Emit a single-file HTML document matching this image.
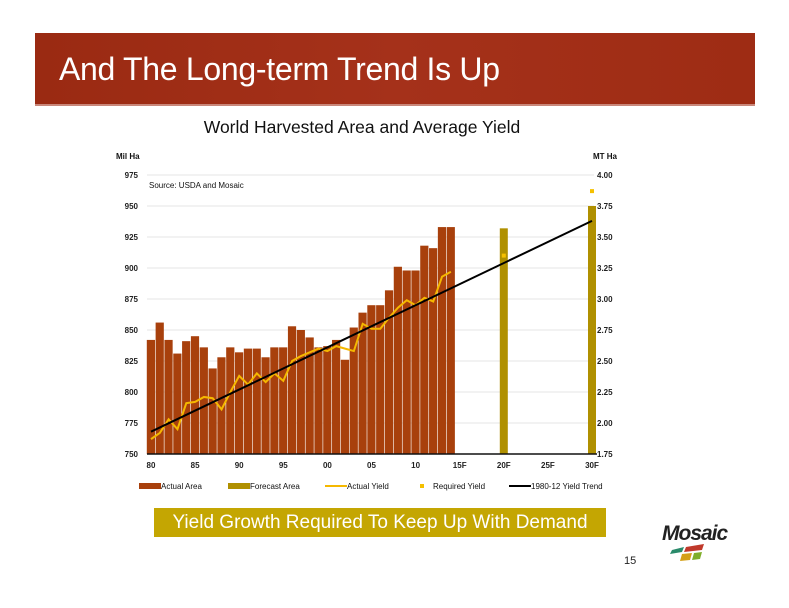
<!DOCTYPE html>
<html><head><meta charset="utf-8"><style>
body{margin:0;width:789px;height:608px;background:#fff;overflow:hidden;font-family:"Liberation Sans",sans-serif;position:relative}
#hdr{position:absolute;left:35px;top:33px;width:720px;height:71px;background:linear-gradient(90deg,#9a2a12,#a5311a 50%,#9e2c14);border-bottom:2px solid #c9877a}
#hdr span{position:absolute;left:24px;top:18px;color:#fff;font-size:32px;letter-spacing:-0.3px}
#banner{position:absolute;left:154px;top:508px;width:452px;height:29px;background:#c4a602;color:#fff;font-size:19px;line-height:29px;text-align:center}
#logo{position:absolute;left:662px;top:522px;font:italic bold 21px "Liberation Sans",sans-serif;color:#222;letter-spacing:-1px}
#pg{position:absolute;left:624px;top:555px;font-size:11px;color:#222}
</style></head><body>
<div id="hdr"><span>And The Long-term Trend Is Up</span></div>
<svg id="chart" width="789" height="608" style="position:absolute;left:0;top:0"></svg>
<div id="banner">Yield Growth Required To Keep Up With Demand</div>
<div id="logo">Mosaic<svg width="40" height="18" style="position:absolute;left:8px;top:22px"><polygon points="2,6 14,3 12,8 0,10" fill="#2a8a6a"/><polygon points="16,3 34,0 32,6 14,8" fill="#c0392b"/><polygon points="12,10 22,9 20,16 10,17" fill="#d4a017"/><polygon points="24,9 32,8 30,15 22,16" fill="#7fae2a"/></svg></div>
<div id="pg">15</div>
<script>
const years=[1980,1981,1982,1983,1984,1985,1986,1987,1988,1989,1990,1991,1992,1993,1994,1995,1996,1997,1998,1999,2000,2001,2002,2003,2004,2005,2006,2007,2008,2009,2010,2011,2012,2013,2014];
const area=[842,856,842,831,841,845,836,819,828,836,832,835,835,828,836,836,853,850,844,836,837,842,826,852,864,870,870,882,901,898,898,918,916,933,933];
const yieldVals=[1.87,1.92,2.03,1.95,2.16,2.17,2.21,2.20,2.11,2.25,2.38,2.31,2.40,2.33,2.40,2.34,2.50,2.54,2.57,2.60,2.58,2.62,2.60,2.58,2.80,2.76,2.76,2.85,2.93,2.99,2.95,3.01,2.98,3.18,3.22];
const forecastYears=[2020,2030];
const forecastArea=[932,950];
const requiredYield=[3.35,3.87];
const trendYears=[1980,2030];
const trendVals=[1.93,3.63];
const leftTicks=[750,775,800,825,850,875,900,925,950,975];
const rightTicks=["1.75","2.00","2.25","2.50","2.75","3.00","3.25","3.50","3.75","4.00"];
const xTicks=["80","85","90","95","00","05","10","15F","20F","25F","30F"];

const svg=document.getElementById('chart');const NS='http://www.w3.org/2000/svg';
const X=y=>151+(y-1980)*8.82;
const YL=v=>454-(v-750)*(279/225);
const YR=v=>454-(v-1.75)*(279/2.25);
function mk(t,a,txt){const e=document.createElementNS(NS,t);for(const k in a)e.setAttribute(k,a[k]);if(txt!=null)e.textContent=txt;svg.appendChild(e);return e;}
let e;
e=mk('text',{x:362,y:133,'text-anchor':'middle','font-size':17.5,'font-family':'Liberation Sans, sans-serif',fill:'#111'},'World Harvested Area and Average Yield');


e=mk('text',{x:116,y:159,'font-size':8,'font-weight':'bold',fill:'#111'},'Mil Ha');


e=mk('text',{x:593,y:159,'font-size':8,'font-weight':'bold',fill:'#111'},'MT Ha');


leftTicks.forEach((v,i)=>{
  const y=YL(v);
  if(i>0){e=mk('line',{x1:147,x2:594,y1:y,y2:y,stroke:'#e4e4e4','stroke-width':1});
  
  }
  e=mk('text',{x:138,y:y+3,'text-anchor':'end','font-size':8,'font-weight':'bold',fill:'#222'},String(v));
  
  
  e=mk('text',{x:597,y:y+3,'font-size':8,'font-weight':'bold',fill:'#222'},rightTicks[i]);
  
  
});
e=mk('text',{x:149,y:188,'font-size':8,fill:'#111'},'Source:  USDA and Mosaic');


years.forEach((yr,i)=>{
  e=mk('rect',{x:X(yr)-4.2,y:YL(area[i]),width:8.2,height:454-YL(area[i]),fill:'#a8400c'});
  
  
});
forecastYears.forEach((yr,i)=>{
  e=mk('rect',{x:X(yr)-4,y:YL(forecastArea[i]),width:8,height:454-YL(forecastArea[i]),fill:'#b09000'});
  
  
});
e=mk('line',{x1:147,x2:597,y1:454,y2:454,stroke:'#111','stroke-width':1.5});


xTicks.forEach((t,i)=>{
  e=mk('text',{x:151+i*44.1,y:468,'text-anchor':'middle','font-size':8,'font-weight':'bold',fill:'#222'},t);
  
  
});
e=mk('polyline',{points:years.map((yr,i)=>X(yr)+','+YR(yieldVals[i])).join(' '),fill:'none',stroke:'#f5b800','stroke-width':2});


e=mk('line',{x1:X(trendYears[0]),y1:YR(trendVals[0]),x2:X(trendYears[1]),y2:YR(trendVals[1]),stroke:'#000','stroke-width':2});


forecastYears.forEach((yr,i)=>{
  e=mk('rect',{x:X(yr)-2,y:YR(requiredYield[i])-2,width:4,height:4,fill:'#f5c000'});
  
  
});
const leg=[['Actual  Area','rect','#a8400c',139],['Forecast Area','rect','#b09000',228],['Actual Yield','line','#f5b800',325],['Required Yield','dot','#f5c000',420],['1980-12 Yield Trend','line','#000',509]];
leg.forEach(l=>{
  const x=l[3];
  if(l[1]==='rect')e=mk('rect',{x:x,y:483,width:22,height:6,fill:l[2]});
  else if(l[1]==='line')e=mk('line',{x1:x,x2:x+22,y1:486,y2:486,stroke:l[2],'stroke-width':2});
  else e=mk('rect',{x:x,y:484,width:4,height:4,fill:l[2]});
  
  
  e=mk('text',{x:l[1]==='dot'?x+13:x+22,y:489,'font-size':8,fill:'#111'},l[0]);
  
  
});
</script>
</body></html>
